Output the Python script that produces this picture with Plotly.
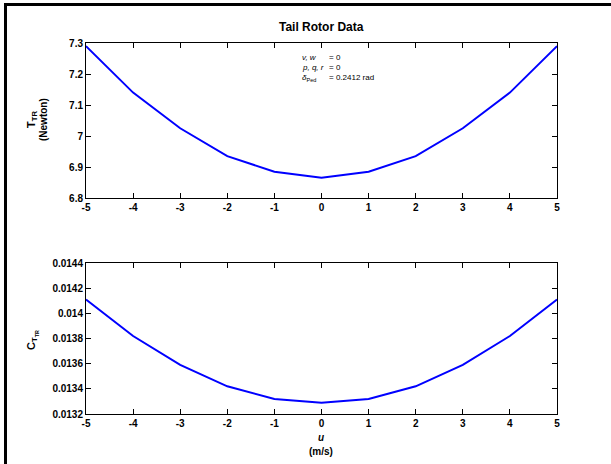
import plotly.graph_objects as go

u_vals = [-5, -4, -3, -2, -1, 0, 1, 2, 3, 4, 5]
thrust = [7.29, 7.14, 7.025, 6.935, 6.885, 6.865, 6.885, 6.935, 7.025, 7.14, 7.29]
ct = [0.01411, 0.01382, 0.01359, 0.01342, 0.01332, 0.01329, 0.01332, 0.01342, 0.01359, 0.01382, 0.01411]
x_ticks = [-5, -4, -3, -2, -1, 0, 1, 2, 3, 4, 5]
t_ticks = [6.8, 6.9, 7.0, 7.1, 7.2, 7.3]
t_labels = ["6.8", "6.9", "7", "7.1", "7.2", "7.3"]
c_ticks = [0.0132, 0.0134, 0.0136, 0.0138, 0.0140, 0.0142, 0.0144]
c_labels = ["0.0132", "0.0134", "0.0136", "0.0138", "0.014", "0.0142", "0.0144"]

W, H = 611, 464
L, R, T, B = 86, 557, 43, 414
pw, ph = R - L, B - T

def px(x):
    return (x - L) / pw

def py(y):
    return (B - y) / ph

fig = go.Figure()
fig.add_trace(go.Scatter(x=u_vals, y=thrust, mode="lines", line=dict(color="#0000ff", width=2),
                         xaxis="x", yaxis="y", showlegend=False))
fig.add_trace(go.Scatter(x=u_vals, y=ct, mode="lines", line=dict(color="#0000ff", width=2),
                         xaxis="x2", yaxis="y2", showlegend=False))

font_tick = dict(family="Liberation Sans, Arial", size=10, color="black")
axis_common = dict(showgrid=False, zeroline=False, showline=True, linecolor="black", linewidth=1,
                   mirror="ticks", ticks="inside", ticklen=5, tickcolor="black",
                   tickfont=font_tick)

fig.update_layout(
    width=W, height=H,
    margin=dict(l=L, r=W - R, t=T, b=H - B),
    plot_bgcolor="white", paper_bgcolor="white",
    xaxis=dict(domain=[0, 1], anchor="y", range=[-5, 5], tickvals=x_ticks,
               ticktext=[f"<b>{v}</b>" for v in x_ticks], **axis_common),
    yaxis=dict(domain=[py(198), 1], anchor="x", range=[6.8, 7.3], tickvals=t_ticks,
               ticktext=[f"<b>{v}</b>" for v in t_labels], **axis_common),
    xaxis2=dict(domain=[0, 1], anchor="y2", range=[-5, 5], tickvals=x_ticks,
                ticktext=[f"<b>{v}</b>" for v in x_ticks], **axis_common),
    yaxis2=dict(domain=[0, py(263)], anchor="x2", range=[0.0132, 0.0144], tickvals=c_ticks,
                ticktext=[f"<b>{v}</b>" for v in c_labels], **axis_common),
)

ann = []
def add(text, x, y, size=10, xanchor="center", yanchor="middle", angle=0):
    ann.append(dict(text=text, x=px(x), y=py(y), xref="paper", yref="paper", showarrow=False,
                    xanchor=xanchor, yanchor=yanchor, textangle=angle,
                    font=dict(family="Liberation Sans, Arial", size=size, color="black")))

add("<b>Tail Rotor Data</b>", 321, 27, size=12)
add("<b><i>u</i></b>", 321, 437, size=10)
add("<b>(m/s)</b>", 321, 451, size=10)
add("<b>T<sub>TR</sub></b>", 32, 120, size=11, angle=-90)
add("<b>(Newton)</b>", 44, 120, size=10, angle=-90)
add("<b>C<sub>T<sub>TR</sub></sub></b>", 32, 340, size=11, angle=-90)
add("<i>v, w</i>", 300, 57, size=8, xanchor="left")
add("= 0", 327, 57, size=8, xanchor="left")
add("<i>p, q, r</i>", 300, 67, size=8, xanchor="left")
add("= 0", 327, 67, size=8, xanchor="left")
add("<i>δ</i><sub>Ped</sub>", 300, 78, size=8, xanchor="left")
add("= 0.2412 rad", 327, 77, size=8, xanchor="left")
fig.update_layout(annotations=ann)

# document frame (left and top edges)
fig.update_layout(shapes=[
    dict(type="rect", xref="paper", yref="paper", x0=px(4), x1=px(7), y0=py(3), y1=py(470),
         fillcolor="black", line=dict(width=0), layer="above"),
    dict(type="rect", xref="paper", yref="paper", x0=px(4), x1=px(615), y0=py(6), y1=py(3),
         fillcolor="black", line=dict(width=0), layer="above"),
])

fig.write_html("out.html", config={"displayModeBar": False},
               post_script="document.body.style.margin='0';document.body.style.overflow='hidden';")
